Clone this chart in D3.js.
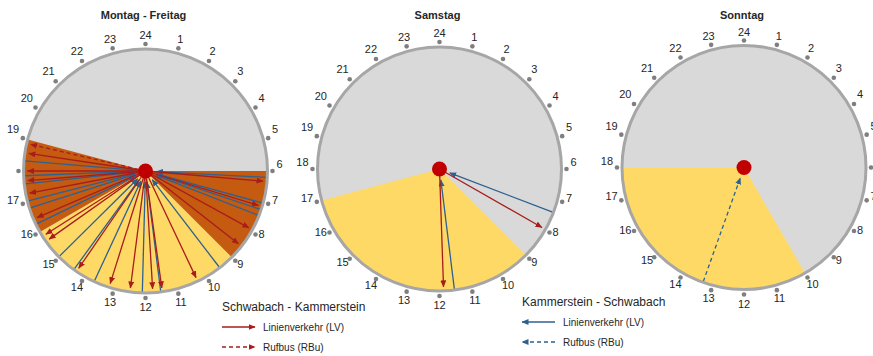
<!DOCTYPE html>
<html><head><meta charset="utf-8">
<script src="https://cdn.jsdelivr.net/npm/d3@7"></script>
<style>html,body{margin:0;padding:0;background:#fff;overflow:hidden}svg{display:block}</style>
</head><body>
<script>
// ---- data ----
const titles = ["Montag - Freitag", "Samstag", "Sonntag"];
const hourLabels = ["24","1","2","3","4","5","6","7","8","9","10","11","12","13","14","15","16","17","18","19","20","21","22","23"];
const hiddenLabels = [["18"], [], []];
// peak service sectors (dark orange), [from, to] in hours
const peakSectors = [[[6, 9], [16, 19]], [], []];
// daytime service sectors (yellow)
const daySectors = [[[9, 16]], [[9, 17]], [[10, 18]]];
// Schwabach -> Kammerstein departures (hours, decimal)
const outLV = [
  [6.33, 7.13, 7.92, 8.54, 10.31, 11.47, 11.77, 12.49, 13.16, 14.3, 15.65, 15.84, 16.45, 17.28, 17.69, 18.0, 18.57],
  [7.98, 11.87],
  []
];
const outRBu = [[18.87], [], []];
// Kammerstein -> Schwabach departures
const inLV = [
  [6.2, 7.02, 7.23, 7.43, 9.5, 11.52, 12.1, 13.66, 14.4, 15.02, 16.27, 16.82, 17.05, 17.59, 17.85, 18.32],
  [7.39, 11.53],
  []
];
const inRBu = [[], [], [13.31]];
const legendTitles = ["Schwabach - Kammerstein", "Kammerstein - Schwabach"];
const legendItems = ["Linienverkehr (LV)", "Rufbus (RBu)"];

// ---- layout ----
const W = 873, H = 356;
const centers = [[145.5, 171], [439.5, 169], [744, 167.5]];
const R = 122;
const C = {gray: "#d9d9d9", rim: "#a6a6a6", tick: "#7f7f7f", peak: "#c55a11", day: "#ffd966",
           red: "#a81c1c", blue: "#2e6190", dot: "#c00000", text: "#262626"};
const FONT = "'Liberation Sans', Arial, sans-serif";

const svg = d3.select("body").append("svg").attr("width", W).attr("height", H)
  .style("font-family", FONT);

const defs = svg.append("defs");
function marker(id, color) {
  defs.append("marker").attr("id", id).attr("viewBox", "0 0 7 6")
    .attr("refX", 6.5).attr("refY", 3).attr("markerWidth", 7).attr("markerHeight", 6)
    .attr("markerUnits", "userSpaceOnUse").attr("orient", "auto")
    .append("path").attr("d", "M0,0L7,3L0,6Z").attr("fill", color);
}
marker("arR", C.red);
marker("arB", C.blue);

const ang = d3.scaleLinear().domain([0, 24]).range([0, 2 * Math.PI]);
const rad = d3.scaleLinear().domain([0, 1]).range([0, R]);
const pt = (h, r) => [r * Math.sin(ang(h)), -r * Math.cos(ang(h))];
const arc = d3.arc().innerRadius(0).outerRadius(rad(1));

titles.forEach((t, i) => {
  const [cx, cy] = centers[i];
  const g = svg.append("g").attr("transform", `translate(${cx},${cy})`);
  svg.append("text").attr("x", cx - 2).attr("y", 19).attr("text-anchor", "middle")
    .attr("font-size", 11).attr("font-weight", "bold").attr("fill", C.text).text(t);

  g.append("circle").attr("r", rad(1)).attr("fill", C.gray);
  g.selectAll(".day").data(daySectors[i]).join("path")
    .attr("d", d => arc({startAngle: ang(d[0]), endAngle: ang(d[1])})).attr("fill", C.day);
  g.selectAll(".peak").data(peakSectors[i]).join("path")
    .attr("d", d => arc({startAngle: ang(d[0]), endAngle: ang(d[1])})).attr("fill", C.peak);

  const drawOut = (data, dash) => g.selectAll(null).data(data).join("line")
    .attr("x1", 0).attr("y1", 0)
    .attr("x2", d => pt(d, rad(1) - 4)[0]).attr("y2", d => pt(d, rad(1) - 4)[1])
    .attr("stroke", C.red).attr("stroke-width", 1.3)
    .attr("stroke-dasharray", dash ? "4,3" : null).attr("marker-end", "url(#arR)");
  const drawIn = (data, dash) => g.selectAll(null).data(data).join("line")
    .attr("x1", d => pt(d, rad(1) - 1)[0]).attr("y1", d => pt(d, rad(1) - 1)[1])
    .attr("x2", d => pt(d, 11)[0]).attr("y2", d => pt(d, 11)[1])
    .attr("stroke", C.blue).attr("stroke-width", 1.3)
    .attr("stroke-dasharray", dash ? "4,3" : null).attr("marker-end", "url(#arB)");
  drawIn(inLV[i], false);
  drawIn(inRBu[i], true);
  drawOut(outLV[i], false);
  drawOut(outRBu[i], true);

  g.append("circle").attr("r", rad(1)).attr("fill", "none").attr("stroke", C.rim).attr("stroke-width", 3);

  const hrs = d3.range(24);
  const rd = rad(1) + 5;
  g.selectAll(".tk").data(hrs).join("circle")
    .attr("cx", h => pt(h, rd)[0]).attr("cy", h => pt(h, rd)[1])
    .attr("r", 2.3).attr("fill", C.tick);
  g.selectAll(".lb").data(hrs.filter(h => !hiddenLabels[i].includes(hourLabels[h]))).join("text")
    .attr("x", h => {
      const ux = Math.sin(ang(h)), w = 6.1 * hourLabels[h].length;
      return pt(h, rd)[0] + ux * (4 + w / 2);
    })
    .attr("y", h => {
      const ux = Math.sin(ang(h)), uy = -Math.cos(ang(h));
      return pt(h, rd)[1] + uy * 9 - 7 * ux * ux;
    })
    .attr("text-anchor", "middle").attr("dominant-baseline", "central")
    .attr("font-size", 11).attr("fill", C.text).text(h => hourLabels[h]);

  g.append("circle").attr("r", 7.5).attr("fill", C.dot);
});

// ---- legends ----
const legends = [
  {x: 222, ty: 307, ys: [327, 347], color: C.red, mk: "url(#arR)", dir: 1},
  {x: 522, ty: 302, ys: [322, 342], color: C.blue, mk: "url(#arB)", dir: -1}
];
legends.forEach((L, k) => {
  svg.append("text").attr("x", L.x).attr("y", L.ty).attr("dominant-baseline", "central")
    .attr("font-size", 12).attr("fill", C.text).text(legendTitles[k]);
  legendItems.forEach((it, j) => {
    const x1 = L.dir > 0 ? L.x : L.x + 33, x2 = L.dir > 0 ? L.x + 33 : L.x;
    svg.append("line").attr("x1", x1).attr("x2", x2).attr("y1", L.ys[j]).attr("y2", L.ys[j])
      .attr("stroke", L.color).attr("stroke-width", 1.5)
      .attr("stroke-dasharray", j === 1 ? "4,3" : null).attr("marker-end", L.mk);
    svg.append("text").attr("x", L.x + 41).attr("y", L.ys[j]).attr("dominant-baseline", "central")
      .attr("font-size", 10).attr("fill", C.text).text(it);
  });
});
</script>
</body></html>
